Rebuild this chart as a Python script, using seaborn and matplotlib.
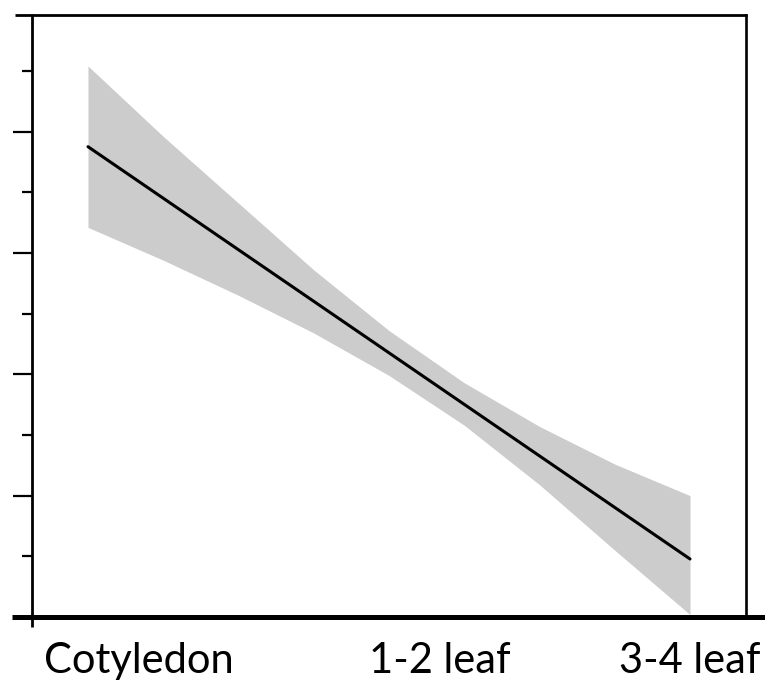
import matplotlib
matplotlib.use("Agg")
import matplotlib.pyplot as plt
from matplotlib.lines import Line2D
from matplotlib.ticker import FixedLocator
import pandas as pd
import seaborn as sns

# Fitted trend across developmental stages
fit_x = [0.0, 2.0]
fit_y = [3.875, 0.478]

# Confidence band of the fit
band_x = [0.0, 0.25, 0.5, 0.75, 1.0, 1.25, 1.5, 1.75, 2.0]
band_upper = [4.54, 3.96, 3.41, 2.86, 2.36, 1.93, 1.57, 1.26, 1.00]
band_lower = [3.21, 2.94, 2.65, 2.34, 1.99, 1.58, 1.09, 0.55, 0.02]

# Stage labels along the x axis
stage_labels = ["Cotyledon", "1-2 leaf", "3-4 leaf"]
stage_pos = [0.170, 1.169, 2.0]

y_major = [1, 2, 3, 4]
y_minor = [0.5, 1.5, 2.5, 3.5, 4.5]

sns.set_theme(style="white")
plt.rcParams["font.family"] = ["Lato", "DejaVu Sans"]

W, H = 765, 683
fig = plt.figure(figsize=(W / 100, H / 100), dpi=100)
ax = fig.add_axes([32 / W, 1 - 617 / H, (746 - 32) / W, (617 - 15) / H])


def fig_line(x0, y0, x1, y1, lw):
    fig.add_artist(Line2D([x0 / W, x1 / W], [1 - y0 / H, 1 - y1 / H],
                          transform=fig.transFigure, color="black",
                          linewidth=lw, solid_capstyle="butt"))


ax.fill_between(band_x, band_lower, band_upper, color="#cccccc", linewidth=0)
df = pd.DataFrame({"x": fit_x, "y": fit_y})
sns.lineplot(data=df, x="x", y="y", ax=ax, color="black", linewidth=2.2)

ax.set_xlim(-0.186, 2.186)
ax.set_ylim(0, 4.96)
ax.set_xlabel("")
ax.set_ylabel("")

for side in ["top", "bottom", "left"]:
    ax.spines[side].set_visible(False)
ax.spines["right"].set_color("black")
ax.spines["right"].set_linewidth(1.9)

ax.yaxis.set_major_locator(FixedLocator(y_major))
ax.yaxis.set_minor_locator(FixedLocator(y_minor))
ax.tick_params(axis="y", which="major", left=True, length=14, width=1.6,
               color="black", labelleft=False)
ax.tick_params(axis="y", which="minor", left=True, length=7.5, width=1.6,
               color="black")

ax.set_xticks(stage_pos)
ax.set_xticklabels(stage_labels, fontsize=30, color="black")
ax.tick_params(axis="x", which="major", length=0, pad=18)

# Frame lines
fig_line(15, 15, 747, 15, 2.0)       # top
fig_line(32, 14, 32, 627, 2.0)       # left
fig_line(12, 617, 765, 617, 3.6)     # bottom

fig.savefig("out.png", dpi=100)
